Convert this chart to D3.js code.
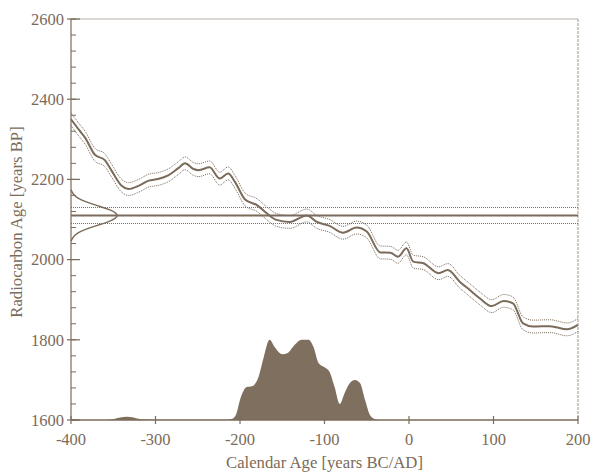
<!DOCTYPE html>
<html>
<head>
<meta charset="utf-8">
<script src="https://cdn.jsdelivr.net/npm/d3@7"></script>
<style>
  body { margin: 0; background: #fff; }
  svg { display: block; font-family: "Liberation Serif", "DejaVu Serif", serif; }
</style>
</head>
<body>
<svg id="chart" width="593" height="474"></svg>
<script>
// calibration curve (calendar year, radiocarbon age BP)
var calYears = [-400, -390, -383, -372, -360, -352, -340, -332, -320, -308, -297, -285, -273, -265, -255, -249, -236, -224, -214, -206, -194, -180, -168, -157, -141, -121, -109, -94, -78, -62, -50, -34, -22, -13, -3, 5, 17, 35, 46, 60, 72, 84, 98, 112, 123, 135, 147, 167, 187, 200];
var calAges = [2350, 2322, 2303, 2262, 2248, 2222, 2184, 2176, 2184, 2197, 2201, 2210, 2228, 2240, 2226, 2223, 2230, 2202, 2215, 2194, 2150, 2136, 2115, 2099, 2094, 2110, 2094, 2084, 2067, 2080, 2070, 2018, 2017, 2007, 2028, 1995, 1991, 1966, 1974, 1945, 1924, 1903, 1884, 1897, 1891, 1841, 1833, 1834, 1826, 1837];
var calError = 16;

// measured date
var sampleAge = 2110;
var sampleError = 20;
var measAges = [2046, 2056, 2066, 2076, 2086, 2096, 2110, 2124, 2134, 2144, 2154, 2164, 2174];
var measProb = [0.0, 0.04, 0.12, 0.3, 0.55, 0.82, 1.0, 0.82, 0.55, 0.3, 0.12, 0.04, 0.0];

// calibrated distribution (calendar year, relative probability)
var distYears = [-400, -360, -350, -342, -334, -326, -318, -300, -250, -215, -210, -205, -200, -192, -186, -178, -172, -165, -159, -150, -143, -135, -127, -119, -113, -107, -99, -94, -88, -82, -76, -70, -64, -58, -52, -46, -40, -35, 200];
var distProb = [0, 0, 0.01, 0.03, 0.04, 0.03, 0.01, 0.004, 0.002, 0.003, 0.012, 0.06, 0.25, 0.41, 0.42, 0.54, 0.78, 1.0, 0.91, 0.82, 0.84, 0.94, 1.0, 1.0, 0.91, 0.71, 0.65, 0.6, 0.41, 0.2, 0.34, 0.46, 0.5, 0.46, 0.25, 0.06, 0.01, 0, 0];

var xTicks = [-400, -300, -200, -100, 0, 100, 200];
var yTicks = [1600, 1800, 2000, 2200, 2400, 2600];
var yMinor = d3.range(1600, 2601, 40);

var brown = "#7b6b5a";
var svg = d3.select("#chart");
var margin = {left: 71, right: 15, top: 19, bottom: 54};
var W = 593, H = 474;

var x = d3.scaleLinear().domain([-400, 200]).range([margin.left, W - margin.right]);
var y = d3.scaleLinear().domain([1600, 2600]).range([H - margin.bottom, margin.top]);
var pScale = d3.scaleLinear().domain([0, 1]).range([y(1600), y(1800)]);
var mScale = d3.scaleLinear().domain([0, 1]).range([x(-400), x(-400) + 49]);

// frame (top and right)
svg.append("line").attr("x1", x(-400)).attr("x2", x(200)).attr("y1", y(2600)).attr("y2", y(2600))
  .attr("stroke", "#b8aea4").attr("stroke-width", 1);
svg.append("line").attr("x1", x(200)).attr("x2", x(200)).attr("y1", y(2600)).attr("y2", y(1600))
  .attr("stroke", "#a4978a").attr("stroke-width", 1).attr("stroke-dasharray", "3,1");

// calibrated distribution
var area = d3.area()
  .x(function(d, i) { return x(distYears[i]); })
  .y0(y(1600))
  .y1(function(d) { return pScale(d); })
  .curve(d3.curveMonotoneX);
svg.append("path").datum(distProb).attr("d", area).attr("fill", "#7f6f5e");

// sample lines
[sampleAge - sampleError, sampleAge + sampleError].forEach(function(v) {
  svg.append("line").attr("x1", x(-400)).attr("x2", x(200)).attr("y1", y(v)).attr("y2", y(v))
    .attr("stroke", brown).attr("stroke-width", 1).attr("stroke-dasharray", "1,1");
});
svg.append("line").attr("x1", x(-400)).attr("x2", x(200)).attr("y1", y(sampleAge)).attr("y2", y(sampleAge))
  .attr("stroke", brown).attr("stroke-width", 2);

// measured gaussian
var gLine = d3.line()
  .x(function(d) { return mScale(d); })
  .y(function(d, i) { return y(measAges[i]); })
  .curve(d3.curveBasis);
svg.append("path").datum(measProb).attr("d", gLine)
  .attr("fill", "none").attr("stroke", brown).attr("stroke-width", 1.5);

// calibration curve
var calLine = function(off) {
  return d3.line()
    .x(function(d, i) { return x(calYears[i]); })
    .y(function(d) { return y(d + off); })
    .curve(d3.curveMonotoneX);
};
[calError, -calError].forEach(function(off) {
  svg.append("path").datum(calAges).attr("d", calLine(off))
    .attr("fill", "none").attr("stroke", brown).attr("stroke-width", 1).attr("stroke-dasharray", "1,1");
});
svg.append("path").datum(calAges).attr("d", calLine(0))
  .attr("fill", "none").attr("stroke", brown).attr("stroke-width", 2);

// axes
svg.append("line").attr("x1", x(-400)).attr("x2", x(-400)).attr("y1", y(2600)).attr("y2", y(1600))
  .attr("stroke", brown).attr("stroke-width", 1.2);
svg.append("line").attr("x1", x(-400)).attr("x2", x(200)).attr("y1", y(1600)).attr("y2", y(1600))
  .attr("stroke", brown).attr("stroke-width", 1.5);

svg.selectAll(".ymin").data(yMinor).join("line")
  .attr("x1", x(-400)).attr("x2", x(-400) + 5)
  .attr("y1", function(d) { return y(d); }).attr("y2", function(d) { return y(d); })
  .attr("stroke", brown).attr("stroke-width", 1);
svg.selectAll(".ymaj").data(yTicks).join("line")
  .attr("x1", x(-400) - 4).attr("x2", x(-400) + 9)
  .attr("y1", function(d) { return y(d); }).attr("y2", function(d) { return y(d); })
  .attr("stroke", brown).attr("stroke-width", 1.2);
svg.selectAll(".ylab").data(yTicks).join("text")
  .attr("x", x(-400) - 7).attr("y", function(d) { return y(d); })
  .attr("dy", "0.35em").attr("text-anchor", "end")
  .attr("font-size", 16.5).attr("fill", brown)
  .text(function(d) { return d; });

svg.selectAll(".xmaj").data(xTicks).join("line")
  .attr("x1", function(d) { return x(d); }).attr("x2", function(d) { return x(d); })
  .attr("y1", y(1600) - 4).attr("y2", y(1600) + 4)
  .attr("stroke", brown).attr("stroke-width", 1.2);
svg.selectAll(".xlab").data(xTicks).join("text")
  .attr("x", function(d) { return x(d); }).attr("y", 445)
  .attr("text-anchor", "middle")
  .attr("font-size", 16.5).attr("fill", brown)
  .text(function(d) { return d; });

svg.append("text").attr("x", (x(-400) + x(200)) / 2).attr("y", 468)
  .attr("text-anchor", "middle").attr("font-size", 16.7).attr("fill", brown)
  .text("Calendar Age [years BC/AD]");
svg.append("text").attr("transform", "translate(22," + 222 + ") rotate(-90)")
  .attr("text-anchor", "middle").attr("font-size", 16.7).attr("fill", brown)
  .text("Radiocarbon Age [years BP]");
</script>
</body>
</html>
